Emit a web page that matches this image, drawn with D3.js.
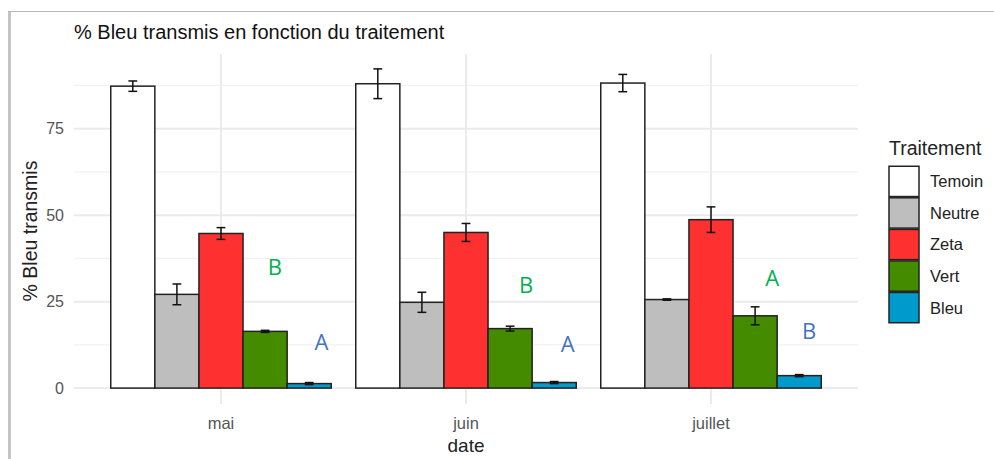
<!DOCTYPE html>
<html>
<head>
<meta charset="utf-8">
<script src="https://cdn.jsdelivr.net/npm/d3@7"></script>
<style>
  html, body { margin: 0; padding: 0; background: #fff; }
  svg { display: block; font-family: "Liberation Sans", Arial, sans-serif; }
</style>
</head>
<body>
<svg id="chart" width="994" height="459"></svg>
<script>
// ---- data ----
const dates = ["mai", "juin", "juillet"];
const treatments = ["Temoin", "Neutre", "Zeta", "Vert", "Bleu"];
const colors = ["#ffffff", "#bebebe", "#ff3030", "#458b00", "#009acd"];

const meanTemoin = [87.3, 88.0, 88.2];
const errTemoin  = [1.5, 4.3, 2.5];
const meanNeutre = [27.1, 24.8, 25.6];
const errNeutre  = [3.0, 2.9, 0.2];
const meanZeta   = [44.7, 45.0, 48.7];
const errZeta    = [1.7, 2.6, 3.7];
const meanVert   = [16.4, 17.2, 20.9];
const errVert    = [0.3, 0.7, 2.6];
const meanBleu   = [1.3, 1.6, 3.6];
const errBleu    = [0.3, 0.3, 0.3];

const yTicks = [0, 25, 50, 75];
const yMinor = [12.5, 37.5, 62.5, 87.5];

// significance letters (x in discrete-axis units, y in data units)
const letterText  = ["B", "A", "B", "A", "A", "B"];
const letterColor = ["#00b050", "#4472c4", "#00b050", "#4472c4", "#00b050", "#4472c4"];
const letterX     = [1.22, 1.41, 2.245, 2.415, 3.25, 3.40];
const letterY     = [35.0, 13.2, 29.9, 12.8, 31.9, 16.4];

const means = [meanTemoin, meanNeutre, meanZeta, meanVert, meanBleu];
const errs  = [errTemoin, errNeutre, errZeta, errVert, errBleu];
const rows = [];
treatments.forEach((t, i) => dates.forEach((d, j) => rows.push({ t, d, v: means[i][j], e: errs[i][j], c: colors[i] })));

// ---- layout ----
const svg = d3.select("#chart");
const pL = 74, pR = 858, pT = 54, pB = 404;

const x = d3.scaleBand().domain(dates).range([pL, pR]).paddingInner(0.1).paddingOuter(0.15);
const xc = d3.scaleLinear().domain([0.4, 3.6]).range([pL, pR]);
const xi = d3.scaleBand().domain(treatments).range([0, x.bandwidth()]).padding(0);
const y = d3.scaleLinear().domain([-4.6, 96.6]).range([pB, pT]);

// frame of the screenshot
svg.append("rect").attr("x", 8).attr("y", 11).attr("width", 3).attr("height", 448).attr("fill", "#c4c4c4");
svg.append("line").attr("x1", 8).attr("x2", 994).attr("y1", 11.5).attr("y2", 11.5).attr("stroke", "#b8b8b8").attr("stroke-width", 1);

// grid
const g = svg.append("g");
g.selectAll(".minor").data(yMinor).join("line")
  .attr("x1", pL).attr("x2", pR).attr("y1", d => y(d)).attr("y2", d => y(d))
  .attr("stroke", "#f2f2f2").attr("stroke-width", 1.2);
g.selectAll(".major").data(yTicks).join("line")
  .attr("x1", pL).attr("x2", pR).attr("y1", d => y(d)).attr("y2", d => y(d))
  .attr("stroke", "#ebebeb").attr("stroke-width", 2);
g.selectAll(".vmajor").data(dates).join("line")
  .attr("x1", d => x(d) + x.bandwidth() / 2).attr("x2", d => x(d) + x.bandwidth() / 2)
  .attr("y1", pT).attr("y2", pB)
  .attr("stroke", "#ebebeb").attr("stroke-width", 2);

// bars
svg.append("g").selectAll("rect").data(rows).join("rect")
  .attr("x", d => x(d.d) + xi(d.t))
  .attr("width", xi.bandwidth())
  .attr("y", d => y(d.v))
  .attr("height", d => y(0) - y(d.v))
  .attr("fill", d => d.c)
  .attr("stroke", "#222").attr("stroke-width", 1.5);

// error bars
const eb = svg.append("g").attr("stroke", "#111").attr("stroke-width", 1.5).attr("fill", "none");
const cap = xi.bandwidth() * 0.2;
rows.forEach(d => {
  const cx = x(d.d) + xi(d.t) + xi.bandwidth() / 2;
  eb.append("line").attr("x1", cx).attr("x2", cx).attr("y1", y(d.v + d.e)).attr("y2", y(d.v - d.e));
  eb.append("line").attr("x1", cx - cap / 2).attr("x2", cx + cap / 2).attr("y1", y(d.v + d.e)).attr("y2", y(d.v + d.e));
  eb.append("line").attr("x1", cx - cap / 2).attr("x2", cx + cap / 2).attr("y1", y(d.v - d.e)).attr("y2", y(d.v - d.e));
});

// letters
svg.append("g").selectAll("text").data(letterText).join("text")
  .attr("x", (d, i) => xc(letterX[i]))
  .attr("y", (d, i) => y(letterY[i]))
  .attr("dy", "0.36em")
  .attr("text-anchor", "middle")
  .attr("font-family", "'Open Sans', 'Liberation Sans', sans-serif")
  .attr("font-size", 22)
  .attr("fill", (d, i) => letterColor[i])
  .text(d => d);

// axis labels
svg.append("g").selectAll("text").data(yTicks).join("text")
  .attr("x", 64).attr("y", d => y(d)).attr("dy", "0.36em")
  .attr("text-anchor", "end").attr("font-size", 16).attr("fill", "#555")
  .text(d => d);
svg.append("g").selectAll("text").data(dates).join("text")
  .attr("x", d => x(d) + x.bandwidth() / 2).attr("y", 423).attr("dy", "0.36em")
  .attr("text-anchor", "middle").attr("font-size", 16.5).attr("fill", "#555")
  .text(d => d);

svg.append("text").attr("x", (pL + pR) / 2).attr("y", 445).attr("dy", "0.36em")
  .attr("text-anchor", "middle").attr("font-size", 19).attr("fill", "#222").text("date");
svg.append("text").attr("transform", `translate(30,${(pT + pB) / 2 + 2}) rotate(-90)`).attr("dy", "0.36em")
  .attr("text-anchor", "middle").attr("font-size", 19.5).attr("fill", "#222").text("% Bleu transmis");

// title
svg.append("text").attr("x", 74).attr("y", 39)
  .attr("font-size", 20).attr("fill", "#111").text("% Bleu transmis en fonction du traitement");

// legend
const lg = svg.append("g");
lg.append("text").attr("x", 889).attr("y", 148).attr("dy", "0.36em")
  .attr("font-size", 19.5).attr("fill", "#222").text("Traitement");
const keyY = d3.scaleBand().domain(treatments).range([165, 324]).padding(0.04);
lg.selectAll("rect").data(treatments).join("rect")
  .attr("x", 889).attr("y", d => keyY(d)).attr("width", 30).attr("height", keyY.bandwidth())
  .attr("fill", (d, i) => colors[i]).attr("stroke", "#222").attr("stroke-width", 1.5);
lg.selectAll(".lab").data(treatments).join("text")
  .attr("x", 930).attr("y", d => keyY(d) + keyY.bandwidth() / 2).attr("dy", "0.36em")
  .attr("font-size", 16.5).attr("fill", "#222").text(d => d);
</script>
</body>
</html>
